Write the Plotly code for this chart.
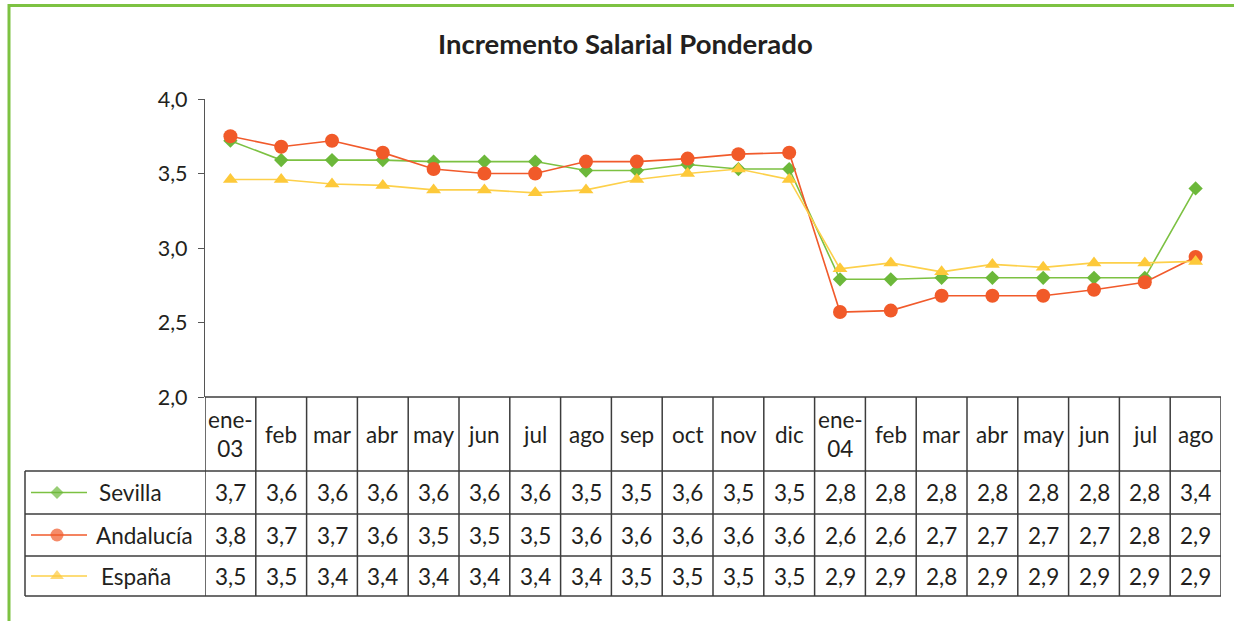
import plotly.graph_objects as go

# Monthly categories (Jan 2003 - Aug 2004)
months = ["ene-<br>03", "feb", "mar", "abr", "may", "jun", "jul", "ago", "sep", "oct",
          "nov", "dic", "ene-<br>04", "feb", "mar", "abr", "may", "jun", "jul", "ago"]

sevilla = [3.72, 3.59, 3.59, 3.59, 3.58, 3.58, 3.58, 3.52, 3.52, 3.56,
           3.53, 3.53, 2.79, 2.79, 2.80, 2.80, 2.80, 2.80, 2.80, 3.40]
andalucia = [3.75, 3.68, 3.72, 3.64, 3.53, 3.50, 3.50, 3.58, 3.58, 3.60,
             3.63, 3.64, 2.57, 2.58, 2.68, 2.68, 2.68, 2.72, 2.77, 2.94]
espana = [3.46, 3.46, 3.43, 3.42, 3.39, 3.39, 3.37, 3.39, 3.46, 3.50,
          3.53, 3.46, 2.86, 2.90, 2.84, 2.89, 2.87, 2.90, 2.90, 2.91]

series_names = ["Sevilla", "Andalucía", "España"]
series_values = [sevilla, andalucia, espana]
line_colors = ["#7cc142", "#f15a2b", "#fdd04a"]
marker_colors = ["#6cb83a", "#f15a29", "#fdc93a"]
marker_symbols = ["diamond", "circle", "triangle-up"]
marker_sizes = [11, 14, 13]

y_ticks = [2.0, 2.5, 3.0, 3.5, 4.0]

W, H = 1234, 621
FONT = "Lato"
TXT = "#231f20"
GRID = "#3c3c3c"
TABLE_FONT = 22.5


def px(x):
    return x / W


def py(y):
    return 1 - y / H


# plot area and table geometry (pixels)
PLOT_L, PLOT_R, PLOT_T, PLOT_B = 205, 1221, 99, 397
TABLE_L = 25
ROW_LINES = [397, 471, 514, 556, 596]
LEGEND_TEXT_X = [97, 94, 99]

fig = go.Figure()
x_idx = list(range(len(months)))

for name, vals, lc, mc, sym, ms in zip(series_names, series_values, line_colors,
                                       marker_colors, marker_symbols, marker_sizes):
    fig.add_trace(go.Scatter(
        x=x_idx, y=vals, name=name, mode="lines+markers",
        line=dict(color=lc, width=1.6),
        marker=dict(symbol=sym, size=ms, color=mc, line=dict(width=0)),
        showlegend=False, xaxis="x", yaxis="y", cliponaxis=False,
    ))

# legend keys inside the table's first column, on a pixel-space overlay axis
key_x = [31, 57, 87]
for i, (lc, mc, sym, ms) in enumerate(zip(line_colors, marker_colors, marker_symbols, marker_sizes)):
    yc = (ROW_LINES[i + 1] + ROW_LINES[i + 2]) / 2
    fig.add_trace(go.Scatter(
        x=key_x, y=[yc] * 3, mode="lines+markers",
        line=dict(color=lc, width=1.6),
        marker=dict(symbol=sym, size=[0, ms - 1, 0], color=mc, line=dict(width=0)),
        showlegend=False, hoverinfo="skip", xaxis="x2", yaxis="y2",
    ))

shapes = []
# green frame (top and left edges)
shapes.append(dict(type="line", xref="paper", yref="paper", x0=px(9), x1=1.0, y0=py(5.5), y1=py(5.5),
                   line=dict(color="#7dc242", width=3)))
shapes.append(dict(type="line", xref="paper", yref="paper", x0=px(9), x1=px(9), y0=py(4), y1=0,
                   line=dict(color="#7dc242", width=3)))

# table horizontal rules
shapes.append(dict(type="line", xref="paper", yref="paper", x0=px(PLOT_L), x1=px(PLOT_R),
                   y0=py(ROW_LINES[0]), y1=py(ROW_LINES[0]), line=dict(color=GRID, width=1.5)))
for yl in ROW_LINES[1:]:
    shapes.append(dict(type="line", xref="paper", yref="paper", x0=px(TABLE_L), x1=px(PLOT_R),
                       y0=py(yl), y1=py(yl), line=dict(color=GRID, width=1.5)))
# table vertical rules at category boundaries
for i in range(len(months) + 1):
    shapes.append(dict(type="line", xref="x", yref="paper", x0=i - 0.5, x1=i - 0.5,
                       y0=py(ROW_LINES[0]), y1=py(ROW_LINES[-1]), line=dict(color=GRID, width=1.5)))
shapes.append(dict(type="line", xref="paper", yref="paper", x0=px(TABLE_L), x1=px(TABLE_L),
                   y0=py(ROW_LINES[1]), y1=py(ROW_LINES[-1]), line=dict(color=GRID, width=1.5)))

annotations = []
annotations.append(dict(text="<b>Incremento Salarial Ponderado</b>", xref="paper", yref="paper",
                        x=px(625), y=py(44), showarrow=False, xanchor="center", yanchor="middle",
                        font=dict(family=FONT, size=27.5, color=TXT)))

head_y = (ROW_LINES[0] + ROW_LINES[1]) / 2
for i, m in enumerate(months):
    annotations.append(dict(text=m, xref="x", yref="paper", x=i, y=py(head_y), showarrow=False,
                            xanchor="center", yanchor="middle",
                            font=dict(family=FONT, size=TABLE_FONT, color=TXT)))


def fmt(v):
    return f"{v:.1f}".replace(".", ",")


for r, (name, vals) in enumerate(zip(series_names, series_values)):
    yc = (ROW_LINES[r + 1] + ROW_LINES[r + 2]) / 2
    annotations.append(dict(text=name, xref="paper", yref="paper", x=px(LEGEND_TEXT_X[r]), y=py(yc),
                            showarrow=False, xanchor="left", yanchor="middle",
                            font=dict(family=FONT, size=TABLE_FONT, color=TXT)))
    for i, v in enumerate(vals):
        annotations.append(dict(text=fmt(v), xref="x", yref="paper", x=i, y=py(yc),
                                showarrow=False, xanchor="center", yanchor="middle",
                                font=dict(family=FONT, size=TABLE_FONT, color=TXT)))

fig.update_layout(
    width=W, height=H,
    margin=dict(l=0, r=0, t=0, b=0, pad=0, autoexpand=False),
    paper_bgcolor="white", plot_bgcolor="rgba(0,0,0,0)",
    separators=",.",
    xaxis=dict(domain=[px(PLOT_L), px(PLOT_R)], range=[-0.5, len(months) - 0.5],
               showticklabels=False, ticks="", showgrid=False, zeroline=False, showline=False,
               automargin=False, fixedrange=True),
    yaxis=dict(domain=[py(PLOT_B), py(PLOT_T)], range=[2.0, 4.0], tickvals=y_ticks,
               tickformat=".1f", ticks="outside", ticklen=6, tickcolor="#555555", tickwidth=1.3,
               showline=True, linecolor="#555555", linewidth=1.3, showgrid=False, zeroline=False,
               tickfont=dict(family=FONT, size=21.5, color=TXT), ticklabelstandoff=6,
               automargin=False, fixedrange=True),
    xaxis2=dict(domain=[0, 1], range=[0, W], visible=False, anchor="y2", automargin=False,
                fixedrange=True),
    yaxis2=dict(domain=[0, 1], range=[H, 0], visible=False, anchor="x2", automargin=False,
                fixedrange=True),
    shapes=shapes,
    annotations=annotations,
    showlegend=False,
)

fig.write_html("out.html")
